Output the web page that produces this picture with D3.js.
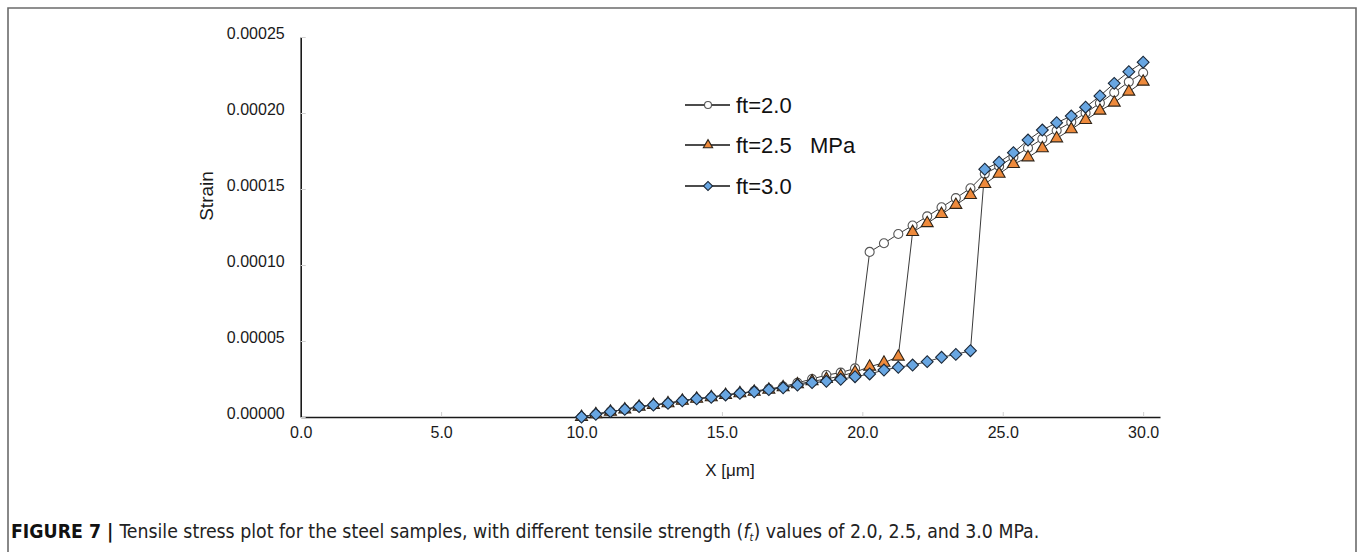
<!DOCTYPE html>
<html><head><meta charset="utf-8">
<script src="https://cdn.jsdelivr.net/npm/d3@7"></script>
<style>
html,body{margin:0;padding:0;background:#fff;}
svg{display:block;}
</style></head>
<body>
<svg id="chart" width="1360" height="552"></svg>
<script>
// ---- data ----
const xValues = [10.00, 10.51, 11.03, 11.54, 12.05, 12.56, 13.08, 13.59, 14.10, 14.62,
  15.13, 15.64, 16.15, 16.67, 17.18, 17.69, 18.21, 18.72, 19.23, 19.74,
  20.26, 20.77, 21.28, 21.79, 22.31, 22.82, 23.33, 23.85, 24.36, 24.87,
  25.38, 25.90, 26.41, 26.92, 27.44, 27.95, 28.46, 28.97, 29.49, 30.00];
const ft20 = [0.00e-5, 0.18e-5, 0.35e-5, 0.50e-5, 0.68e-5, 0.79e-5, 0.90e-5, 1.07e-5, 1.20e-5, 1.30e-5,
  1.45e-5, 1.56e-5, 1.70e-5, 1.85e-5, 2.00e-5, 2.25e-5, 2.50e-5, 2.76e-5, 2.92e-5, 3.20e-5,
  10.86e-5, 11.43e-5, 12.04e-5, 12.60e-5, 13.20e-5, 13.80e-5, 14.40e-5, 15.05e-5, 16.00e-5, 16.50e-5,
  17.10e-5, 17.70e-5, 18.30e-5, 18.85e-5, 19.40e-5, 20.00e-5, 20.65e-5, 21.35e-5, 22.05e-5, 22.65e-5];
const ft25 = [0.00e-5, 0.18e-5, 0.35e-5, 0.50e-5, 0.68e-5, 0.79e-5, 0.90e-5, 1.07e-5, 1.20e-5, 1.30e-5,
  1.45e-5, 1.56e-5, 1.66e-5, 1.80e-5, 1.95e-5, 2.15e-5, 2.35e-5, 2.50e-5, 2.70e-5, 2.95e-5,
  3.31e-5, 3.57e-5, 3.97e-5, 12.17e-5, 12.75e-5, 13.35e-5, 13.95e-5, 14.60e-5, 15.33e-5, 16.00e-5,
  16.64e-5, 17.08e-5, 17.68e-5, 18.33e-5, 18.93e-5, 19.54e-5, 20.15e-5, 20.68e-5, 21.40e-5, 22.06e-5];
const ft30 = [0.00e-5, 0.18e-5, 0.35e-5, 0.50e-5, 0.68e-5, 0.79e-5, 0.90e-5, 1.07e-5, 1.20e-5, 1.30e-5,
  1.45e-5, 1.56e-5, 1.66e-5, 1.80e-5, 1.92e-5, 2.10e-5, 2.26e-5, 2.35e-5, 2.48e-5, 2.65e-5,
  2.83e-5, 3.09e-5, 3.27e-5, 3.42e-5, 3.64e-5, 3.93e-5, 4.12e-5, 4.36e-5, 16.30e-5, 16.76e-5,
  17.39e-5, 18.22e-5, 18.88e-5, 19.36e-5, 19.80e-5, 20.38e-5, 21.12e-5, 21.95e-5, 22.72e-5, 23.34e-5];
const seriesNames = ["ft=2.0", "ft=2.5", "ft=3.0"];
const xTicks = [0, 5, 10, 15, 20, 25, 30];
const yTicks = [0, 0.00005, 0.0001, 0.00015, 0.0002, 0.00025];
const xTitle = "X [\u03bcm]";
const yTitle = "Strain";
const legendUnit = "MPa";

// ---- layout ----
const svg = d3.select("#chart");
const plotL = 300.7, plotR = 1160, plotT = 37, plotB = 417;
const x = d3.scaleLinear().domain([0, 30.6]).range([plotL, plotR]);
const y = d3.scaleLinear().domain([0, 0.00025]).range([plotB, plotT]);
const FONT = "'Liberation Sans', Arial, sans-serif";

// border
svg.append("path").attr("d", "M8,552 L8,8 L1356,8 L1356,552")
  .attr("fill", "none").attr("stroke", "#6b6b6b").attr("stroke-width", 1.6);

// axes
const xAxis = svg.append("g").attr("transform", `translate(0,${plotB})`)
  .call(d3.axisBottom(x).tickValues(xTicks).tickFormat(d3.format(".1f")).tickSizeInner(-5).tickSizeOuter(0).tickPadding(10));
const yAxis = svg.append("g").attr("transform", `translate(${plotL},0)`)
  .call(d3.axisLeft(y).tickValues(yTicks).tickFormat(d3.format(".5f")).tickSizeInner(-5).tickSizeOuter(0).tickPadding(16));
[xAxis, yAxis].forEach(g => {
  g.select(".domain").attr("stroke", "#1a1a1a").attr("stroke-width", 1.6);
  g.selectAll(".tick line").attr("stroke", "#d0d0d0").attr("stroke-width", 1);
  g.selectAll(".tick text").attr("font-family", FONT).attr("font-size", 16).attr("fill", "#1a1a1a");
});
yAxis.selectAll(".tick text").attr("dy", "0.1em");

// titles
svg.append("text").attr("x", 730).attr("y", 476).attr("text-anchor", "middle")
  .attr("font-family", FONT).attr("font-size", 17).attr("fill", "#1a1a1a").text(xTitle);
svg.append("text").attr("transform", "translate(213,196) rotate(-90)").attr("text-anchor", "middle")
  .attr("font-family", FONT).attr("font-size", 19).attr("fill", "#1a1a1a").text(yTitle);

// series
const seriesData = [ft20, ft25, ft30].map((vals, i) => ({
  name: seriesNames[i], i, pts: xValues.map((xv, k) => [xv, vals[k]])
}));
const line = d3.line().x(d => x(d[0])).y(d => y(d[1]));
const styles = [
  {fill: "#ffffff", stroke: "#555555", sym: d3.symbolCircle, size: 64, rot: 0},
  {fill: "#ee8a3c", stroke: "#2f2418", sym: d3.symbolTriangle, size: 62, rot: 0},
  {fill: "#68a6e2", stroke: "#1b2838", sym: d3.symbolSquare, size: 70, rot: 45}
];
seriesData.forEach(s => {
  svg.append("path").attr("d", line(s.pts)).attr("fill", "none")
    .attr("stroke", "#3a3a3a").attr("stroke-width", 1);
});
seriesData.forEach(s => {
  const st = styles[s.i];
  svg.append("g").selectAll("path").data(s.pts).join("path")
    .attr("transform", d => `translate(${x(d[0])},${y(d[1])}) rotate(${st.rot})`)
    .attr("d", d3.symbol().type(st.sym).size(st.size))
    .attr("fill", st.fill).attr("stroke", st.stroke).attr("stroke-width", 1.1);
});

// legend
const legY = [105, 145, 186];
seriesData.forEach(s => {
  const st = styles[s.i];
  const g = svg.append("g").attr("transform", `translate(0,${legY[s.i]})`);
  g.append("line").attr("x1", 685).attr("x2", 730).attr("y1", 0).attr("y2", 0)
    .attr("stroke", "#111").attr("stroke-width", 1.6);
  g.append("path").attr("transform", `translate(708,0) rotate(${st.rot})`)
    .attr("d", d3.symbol().type(st.sym).size(st.size * 0.6))
    .attr("fill", st.fill).attr("stroke", st.stroke).attr("stroke-width", 1.1);
  g.append("text").attr("x", 736).attr("y", 0).attr("dy", "0.36em")
    .attr("font-family", FONT).attr("font-size", 22).attr("fill", "#111").text(s.name);
  if (s.i === 1) {
    g.append("text").attr("x", 810).attr("y", 0).attr("dy", "0.36em")
      .attr("font-family", FONT).attr("font-size", 22).attr("fill", "#111").text(legendUnit);
  }
});

// caption
const cap = svg.append("text").attr("x", 11).attr("y", 538)
  .attr("font-family", "'Liberation Sans Narrow','DejaVu Sans Condensed','Roboto Condensed',sans-serif")
  .attr("font-stretch", "condensed").attr("font-size", 16).attr("fill", "#222");
cap.append("tspan").attr("font-weight", "bold").attr("fill", "#111").text("FIGURE 7 | ");
cap.append("tspan").text("Tensile stress plot for the steel samples, with different tensile strength (");
cap.append("tspan").attr("font-style", "italic").text("f");
cap.append("tspan").attr("font-style", "italic").attr("font-size", 11).attr("dy", 3).text("t");
cap.append("tspan").attr("dy", -3).text(") values of 2.0, 2.5, and 3.0 MPa.");
const w = cap.node().getComputedTextLength();
cap.attr("font-size", 16 * 1030 / w);
</script>
</body></html>
